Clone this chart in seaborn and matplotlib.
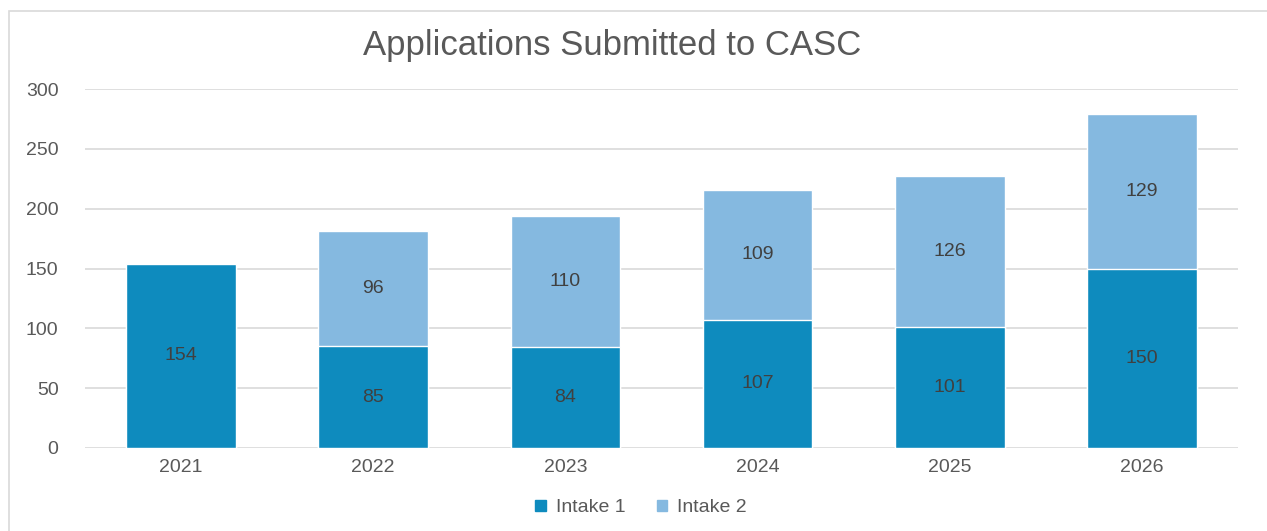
import pandas as pd
import matplotlib.pyplot as plt
import matplotlib.patches as mpatches
import seaborn as sns

# Data
years = ['2021', '2022', '2023', '2024', '2025', '2026']
intake_1 = [154, 85, 84, 107, 101, 150]
intake_2 = [0, 96, 110, 109, 126, 129]

dark_blue = '#0E8BBE'
light_blue = '#85B9E0'
text_grey = '#595959'

df = pd.DataFrame({'year': years, 'intake_1': intake_1, 'intake_2': intake_2})
df['total'] = df['intake_1'] + df['intake_2']

sns.set_style('white')
plt.rcParams['font.family'] = ['Liberation Sans', 'DejaVu Sans']

fig = plt.figure(figsize=(12.67, 5.31), dpi=100)
ax = fig.add_axes([85 / 1267, 1 - 448 / 531, (1238 - 85) / 1267, (448 - 89) / 531])

# Chart frame
fig.patches.append(mpatches.Rectangle((9 / 1267, -0.1), 1.1, 1 - 11 / 531 + 0.1,
                                      transform=fig.transFigure, fill=False,
                                      edgecolor='#d9d9d9', linewidth=1.2, zorder=0))

# Stacked bars: total first (light), then intake 1 over it (dark)
sns.barplot(data=df, x='year', y='total', color=light_blue, width=0.57,
            saturation=1, ax=ax, zorder=3)
sns.barplot(data=df, x='year', y='intake_1', color=dark_blue, width=0.57,
            saturation=1, ax=ax, zorder=3)

# Data labels
for i, row in df.iterrows():
    ax.text(i, row['intake_1'] / 2, str(row['intake_1']), ha='center', va='center',
            fontsize=14, color='#404040', zorder=5)
    if row['intake_2'] > 0:
        ax.text(i, row['intake_1'] + row['intake_2'] / 2, str(row['intake_2']),
                ha='center', va='center', fontsize=14, color='#404040', zorder=5)

ax.set_ylim(0, 300)
ax.set_yticks(range(0, 301, 50))
ax.set_xlim(-0.5, len(years) - 0.5)
ax.grid(axis='y', color='#d9d9d9', linewidth=1.2, zorder=0)
ax.set_axisbelow(True)
for s in ax.spines.values():
    s.set_visible(False)
ax.tick_params(axis='both', length=0, labelsize=14, labelcolor=text_grey)
ax.tick_params(axis='y', pad=19)
ax.tick_params(axis='x', pad=8)
ax.set_xlabel('')
ax.set_ylabel('')

fig.suptitle('Applications Submitted to CASC', x=612 / 1267, y=1 - 45 / 531, va='center',
             fontsize=25, color=text_grey)

handles = [mpatches.Patch(color=dark_blue, label='Intake 1'),
           mpatches.Patch(color=light_blue, label='Intake 2')]
fig.legend(handles=handles, loc='center', bbox_to_anchor=(641 / 1267, 1 - 508 / 531), ncol=2,
           frameon=False, fontsize=14, labelcolor=text_grey, handlelength=0.55,
           handleheight=0.55, handletextpad=0.5, columnspacing=1.6)

fig.savefig('out.png', dpi=100)
